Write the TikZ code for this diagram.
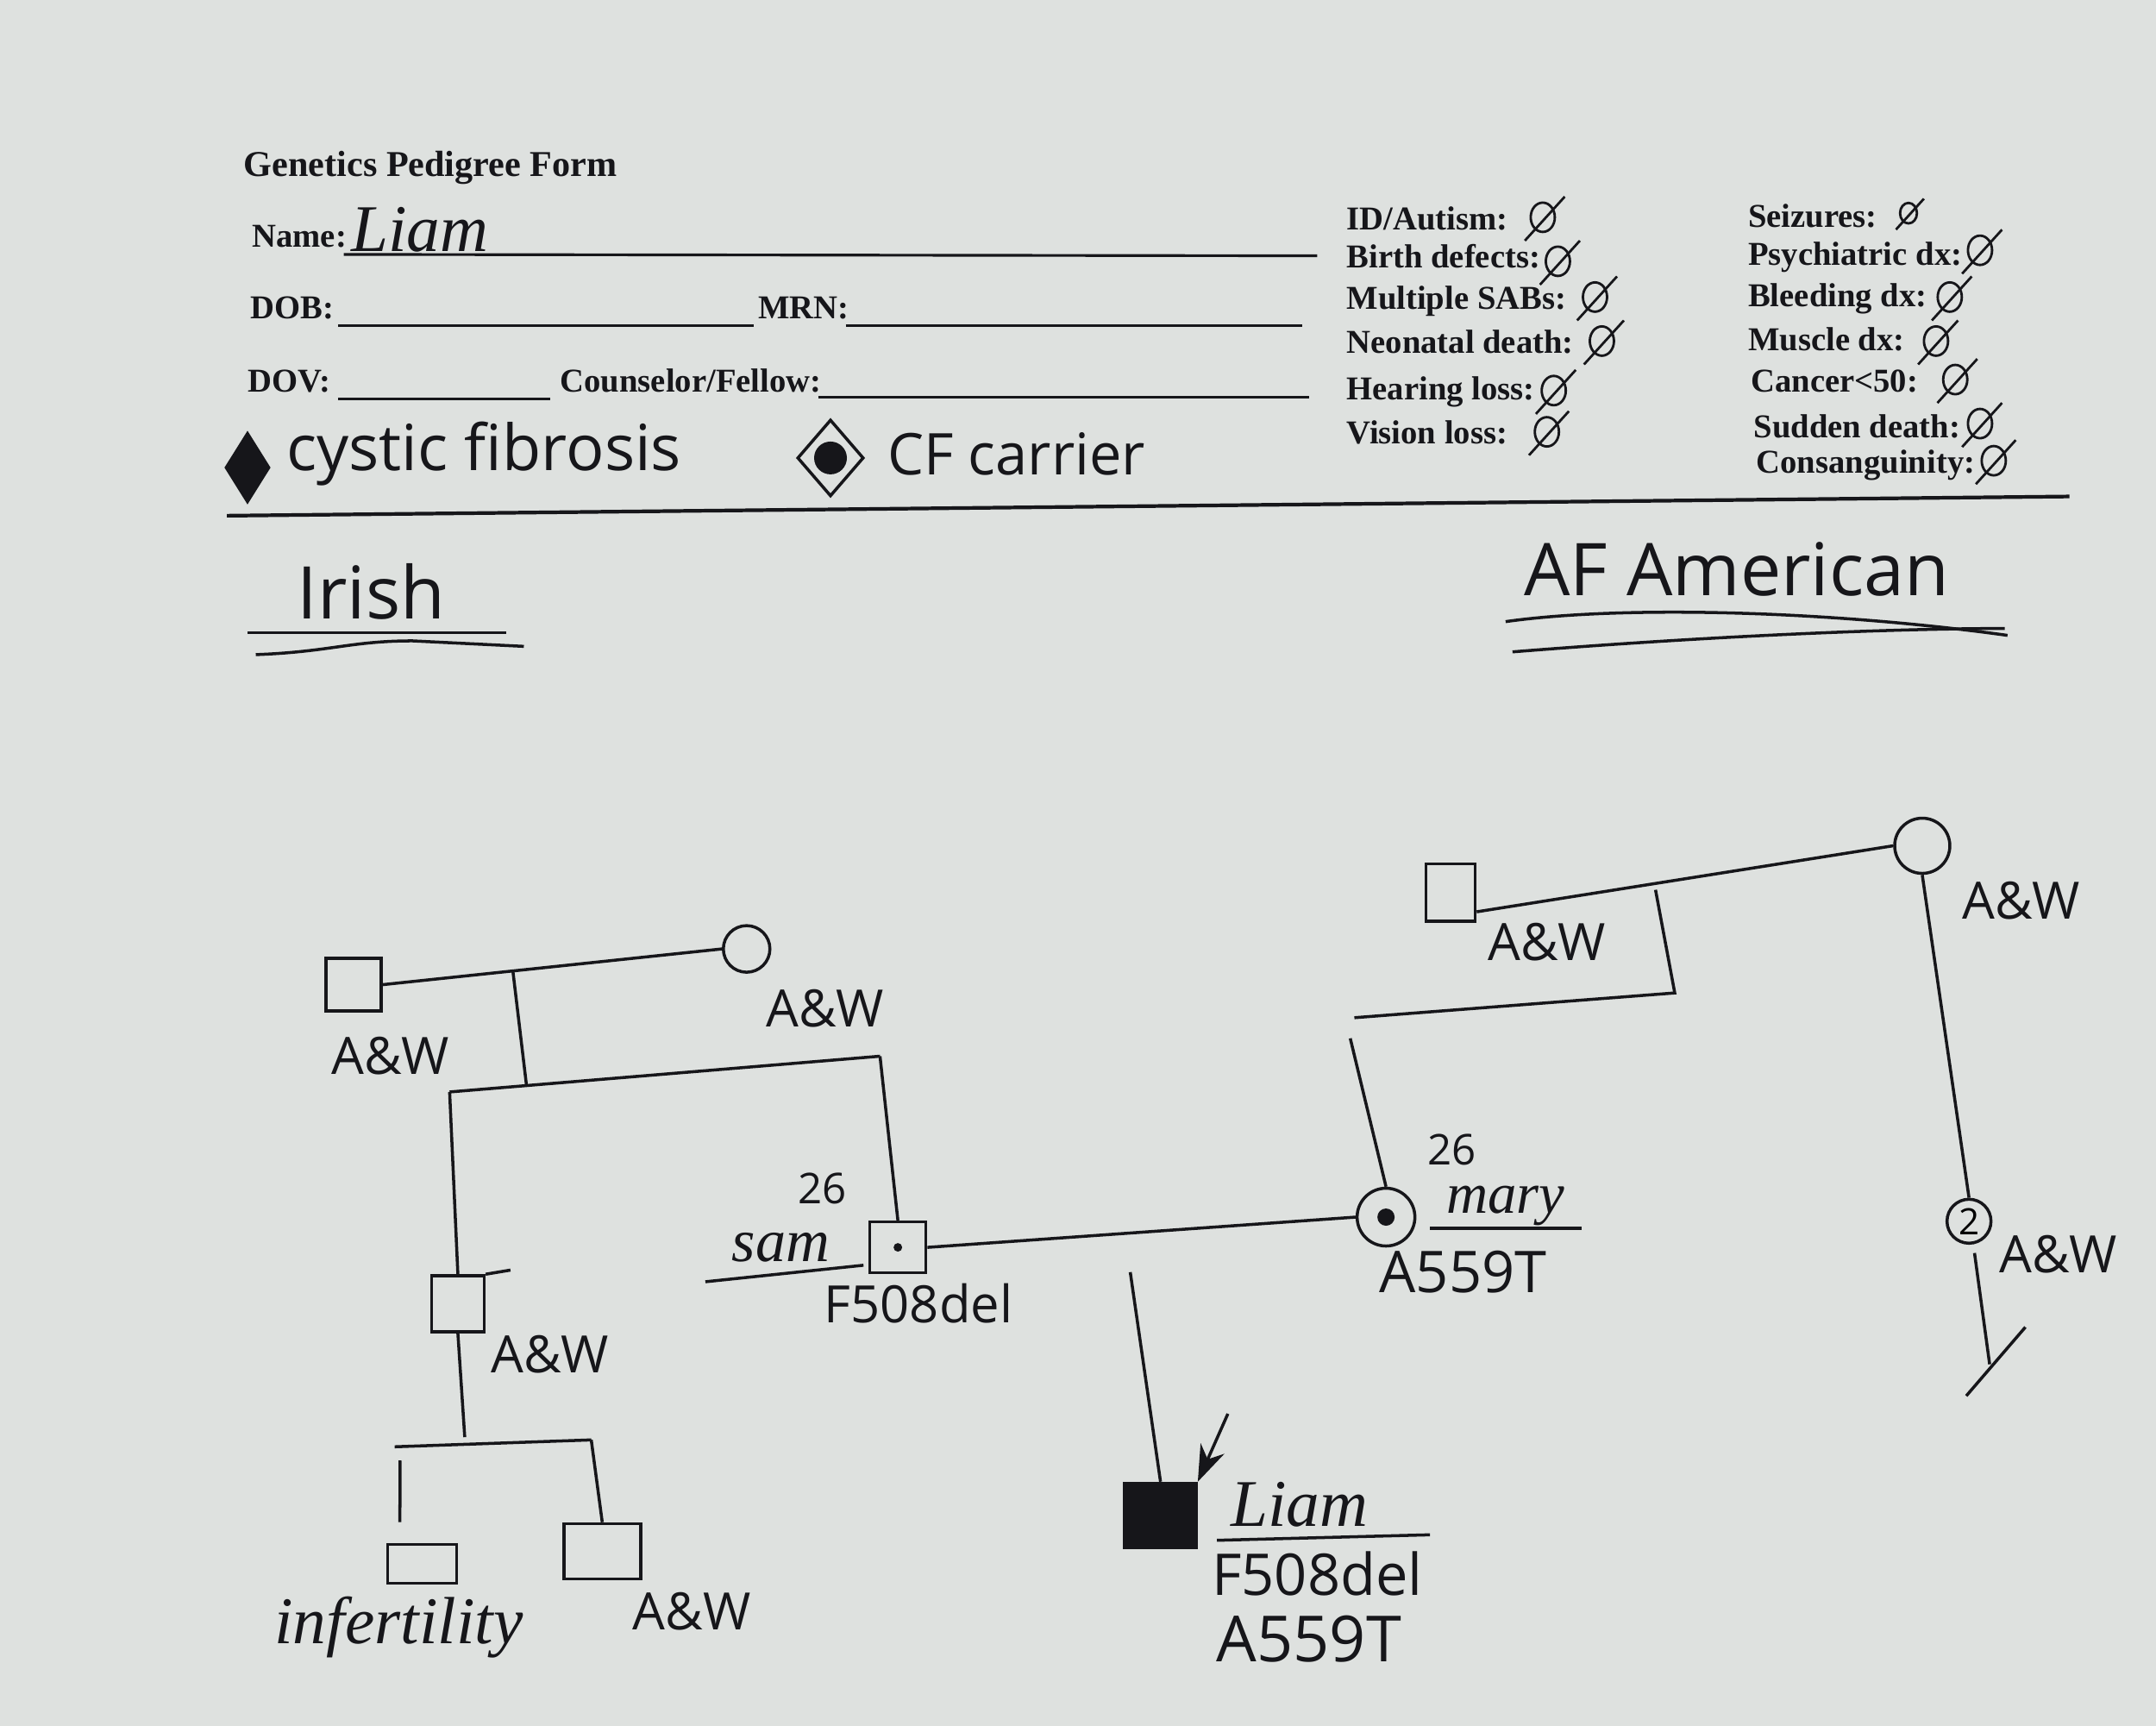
\documentclass[tikz,border=0pt]{standalone}
\usepackage{fontspec}
\setmainfont{Liberation Serif}
\newfontfamily\hand{Open Sans}
\usetikzlibrary{shapes.geometric,arrows.meta,calc}
\definecolor{paper}{RGB}{222,225,223}
\definecolor{ink}{RGB}{22,22,26}
\newcommand\hs[1]{\hand\fontsize{#1}{#1}\selectfont}
\newcommand\cs[1]{\itshape\fontsize{#1}{#1}\selectfont}
\tikzset{
  pers/.style={draw=ink, line width=1pt, inner sep=0pt},
  sq/.style={pers, rectangle},
  ci/.style={pers, circle},
  lnk/.style={draw=ink, line width=1pt},
  form/.style={font=\bfseries\fontsize{11}{13}\selectfont, text=ink, inner sep=0, anchor=base west},
  hw/.style={text=ink, inner sep=0},
  nilmark/.pic={\draw[ink, line width=0.8pt] (0,0) ellipse [x radius=0.14cm, y radius=0.17cm];
                \draw[ink, line width=0.8pt] (-13,17) -- (16,-15);}
}
\begin{document}
\begin{tikzpicture}[x=0.01594cm, y=-0.01594cm]
\useasboundingbox (0,0) rectangle (1568,1255);
\fill[paper] (0,0) rectangle (1568,1255);

% ---------- form header ----------
\node[form, font=\bfseries\fontsize{12}{14}\selectfont] (title) at (177,128) {Genetics Pedigree Form};
\node[form] (lname) at (183,180) {Name:};
\draw[ink, line width=0.9pt] (250,185) -- (958,186);
\node[hw, anchor=base west] (pname) at (255,183) {\cs{22}Liam};
\node[form] (ldob) at (182,232) {DOB:};
\draw[ink, line width=0.9pt] (246,237) -- (548,237);
\node[form] (lmrn) at (551,232) {MRN:};
\draw[ink, line width=0.9pt] (615,237) -- (947,237);
\node[form] (ldov) at (180,285) {DOV:};
\draw[ink, line width=0.9pt] (246,290) -- (400,290);
\node[form] (lcou) at (407,285) {Counselor/Fellow:};
\draw[ink, line width=0.9pt] (595,289) -- (952,289);

% right columns
\node[form] (r1) at (979,167) {ID/Autism:};
\node[form] (r2) at (979,195) {Birth defects:};
\node[form] (r3) at (979,225) {Multiple SABs:};
\node[form] (r4) at (979,257) {Neonatal death:};
\node[form] (r5) at (979,291) {Hearing loss:};
\node[form] (r6) at (979,323) {Vision loss:};
\node[form] (q1) at (1271,165) {Seizures:};
\node[form] (q2) at (1271,193) {Psychiatric dx:};
\node[form] (q3) at (1271,223) {Bleeding dx:};
\node[form] (q4) at (1271,255) {Muscle dx:};
\node[form] (q5) at (1273,285) {Cancer<50:};
\node[form] (q6) at (1275,318) {Sudden death:};
\node[form] (q7) at (1277,344) {Consanguinity:};
\pic at (1122,158) {nilmark};
\pic at (1133,190) {nilmark};
\pic at (1160,216) {nilmark};
\pic at (1165,248) {nilmark};
\pic at (1130,284) {nilmark};
\pic at (1125,314) {nilmark};
\pic[scale=0.7] at (1388,155) {nilmark};
\pic at (1440,182) {nilmark};
\pic at (1418,216) {nilmark};
\pic at (1408,248) {nilmark};
\pic at (1422,276) {nilmark};
\pic at (1440,308) {nilmark};
\pic at (1450,335) {nilmark};

% legend
\node[diamond, fill=ink, minimum width=0.54cm, minimum height=0.86cm, inner sep=0] (cfd) at (180,340) {};
\node[hw, anchor=west] (cft) at (208,330) {\hs{21}cystic fibrosis};
\node[diamond, draw=ink, line width=1pt, minimum width=0.77cm, minimum height=0.89cm, inner sep=0] (cad) at (604,333) {};
\fill[ink] (cad.center) circle [radius=0.19cm];
\node[hw, anchor=west] (cat) at (645,330) {\hs{19}CF carrier};
\draw[ink, line width=1.2pt] (165,375) -- (1505,361);

% ethnicity headings
\node[hw] (irish) at (270,430) {\hs{24}Irish};
\draw[ink, line width=1pt] (180,460) -- (368,460);
\draw[ink, line width=1pt] (186,476) .. controls (240,474) and (255,466) .. (300,466) -- (381,470);
\node[hw] (afam) at (1263,414) {\hs{24}AF American};
\draw[ink, line width=1pt] (1095,452) .. controls (1180,440) and (1330,444) .. (1460,462);
\draw[ink, line width=1pt] (1100,474) .. controls (1250,462) and (1380,457) .. (1458,457);

% ---------- paternal side ----------
\node[sq, minimum width=0.64cm, minimum height=0.61cm] (gf1) at (257,716) {};
\node[ci, minimum size=0.54cm] (gm1) at (543,690) {};
\node[hw] (gf1l) at (284,768) {\hs{17}A\&W};
\node[hw] (gm1l) at (600,733) {\hs{17}A\&W};
\draw[lnk] (gf1.east) -- (gm1.west);
\coordinate (m1) at (373,706);
\coordinate (s1) at (383,790);
\coordinate (s1l) at (327,794);
\coordinate (s1r) at (640,768);
\draw[lnk] (m1) -- (s1);
\draw[lnk] (s1l) -- (s1r);

\node[sq, minimum width=0.61cm, minimum height=0.65cm] (unc) at (333,948) {};
\node[hw] (uncl) at (400,985) {\hs{17}A\&W};
\draw[lnk] (s1l) -- (unc.north);
\draw[lnk] (unc.north east) -- ++(18,-3);

\node[sq, minimum width=0.65cm, minimum height=0.59cm] (sam) at (653,907) {};
\fill[ink] (sam.center) circle [radius=0.05cm];
\draw[lnk] (s1r) -- (sam.north);
\node[hw] (sam26) at (598,864) {\hs{14}26};
\node[hw] (samn) at (568,907) {\cs{20}sam};
\draw[ink, line width=1pt] (513,932) -- (628,920);
\node[hw] (samg) at (668,948) {\hs{17}F508del};

\coordinate (s2) at (338,1045);
\coordinate (s2l) at (287,1052);
\coordinate (s2r) at (430,1047);
\draw[lnk] (unc.south) -- (s2);
\draw[lnk] (s2l) -- (s2r);
\node[sq, minimum width=0.80cm, minimum height=0.45cm] (c1) at (307,1137) {};
\node[sq, minimum width=0.89cm, minimum height=0.64cm] (c2) at (438,1128) {};
\coordinate (d1) at (291,1062);
\draw[lnk] (d1) -- ($(c1.north west)+(10,-15)$);
\draw[lnk] (s2r) -- (c2.north);
\node[hw] (c1l) at (290,1183) {\cs{22}infertility};
\node[hw] (c2l) at (503,1172) {\hs{17}A\&W};

% ---------- maternal side ----------
\node[sq, minimum width=0.57cm, minimum height=0.67cm] (gf2) at (1055,649) {};
\node[ci, minimum size=0.64cm] (gm2) at (1398,615) {};
\node[hw] (gf2l) at (1125,685) {\hs{17}A\&W};
\node[hw] (gm2l) at (1470,655) {\hs{17}A\&W};
\draw[lnk] ($(gf2.east)+(0,14)$) -- (gm2.west);
\coordinate (m2) at (1204,647);
\coordinate (s3) at (1218,722);
\coordinate (s3l) at (985,740);
\draw[lnk] (m2) -- (s3) -- (s3l);

\node[ci, minimum size=0.67cm] (mary) at (1008,885) {};
\fill[ink] (mary.center) circle [radius=0.1cm];
\coordinate (d4) at (982,755);
\draw[lnk] (d4) -- (mary.north);
\node[hw] (mary26) at (1056,836) {\hs{14}26};
\node[hw] (maryn) at (1095,877) {\cs{19}mary};
\draw[ink, line width=1pt] (1040,893) -- (1150,893);
\node[hw] (maryg) at (1064,925) {\hs{19}A559T};

\node[ci, minimum size=0.51cm] (sis) at (1432,888) {\hs{12}2};
\node[hw] (sisl) at (1497,912) {\hs{17}A\&W};
\draw[lnk] (gm2.south) -- (sis.north);
\coordinate (e2) at (1447,992);
\draw[lnk] ($(sis.south)+(4,6)$) -- (e2);
\coordinate (e3) at (1430,1015);
\coordinate (e4) at (1473,965);
\draw[lnk] (e3) -- (e4);

% ---------- proband ----------
\draw[lnk] (sam.east) -- (mary.west);
\node[sq, fill=ink, minimum width=0.83cm, minimum height=0.75cm] (liam) at (844,1102) {};
\coordinate (d3) at (822,925);
\draw[lnk] (d3) -- (liam.north);
\coordinate (arr) at (893,1028);
\draw[ink, line width=1pt, -{Stealth[length=0.42cm, width=0.3cm]}] (arr) -- (liam.north east);
\node[hw] (liamn) at (945,1094) {\cs{22}Liam};
\draw[ink, line width=1pt] (885,1120) -- (1040,1116);
\node[hw] (liamg1) at (958,1144) {\hs{19}F508del};
\node[hw] (liamg2) at (952,1192) {\hs{21}A559T};
\end{tikzpicture}
\end{document}
